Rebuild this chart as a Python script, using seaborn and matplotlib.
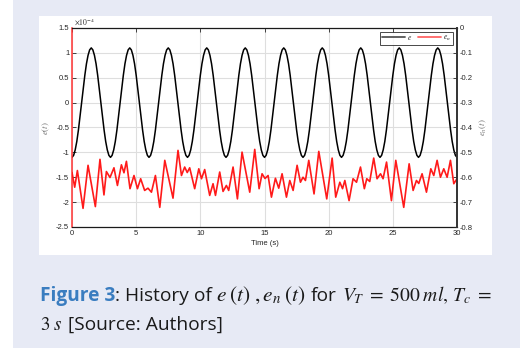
import numpy as np
import pandas as pd
import matplotlib
matplotlib.use("Agg")
import matplotlib.pyplot as plt
import seaborn as sns
from matplotlib.patches import Rectangle
from matplotlib.lines import Line2D

# ---------------- data ----------------
# e(t) in units of 1e-4, sampled every 0.125 s from 0 to 30 s
e_time = np.arange(0, 30.0001, 0.125)
e_vals = [
    -1.10, -1.06, -0.95, -0.78, -0.55, -0.28, 0.00, 0.28, 0.55, 0.78, 0.95, 1.06, 1.10, 1.06, 0.95, 0.78, 0.55, 0.28, 0.00, -0.28, -0.55, -0.78, -0.95, -1.06,
    -1.10, -1.06, -0.95, -0.78, -0.55, -0.28, 0.00, 0.28, 0.55, 0.78, 0.95, 1.06, 1.10, 1.06, 0.95, 0.78, 0.55, 0.28, 0.00, -0.28, -0.55, -0.78, -0.95, -1.06,
    -1.10, -1.06, -0.95, -0.78, -0.55, -0.28, 0.00, 0.28, 0.55, 0.78, 0.95, 1.06, 1.10, 1.06, 0.95, 0.78, 0.55, 0.28, 0.00, -0.28, -0.55, -0.78, -0.95, -1.06,
    -1.10, -1.06, -0.95, -0.78, -0.55, -0.28, 0.00, 0.28, 0.55, 0.78, 0.95, 1.06, 1.10, 1.06, 0.95, 0.78, 0.55, 0.28, 0.00, -0.28, -0.55, -0.78, -0.95, -1.06,
    -1.10, -1.06, -0.95, -0.78, -0.55, -0.28, 0.00, 0.28, 0.55, 0.78, 0.95, 1.06, 1.10, 1.06, 0.95, 0.78, 0.55, 0.28, 0.00, -0.28, -0.55, -0.78, -0.95, -1.06,
    -1.10, -1.06, -0.95, -0.78, -0.55, -0.28, 0.00, 0.28, 0.55, 0.78, 0.95, 1.06, 1.10, 1.06, 0.95, 0.78, 0.55, 0.28, 0.00, -0.28, -0.55, -0.78, -0.95, -1.06,
    -1.10, -1.06, -0.95, -0.78, -0.55, -0.28, 0.00, 0.28, 0.55, 0.78, 0.95, 1.06, 1.10, 1.06, 0.95, 0.78, 0.55, 0.28, 0.00, -0.28, -0.55, -0.78, -0.95, -1.06,
    -1.10, -1.06, -0.95, -0.78, -0.55, -0.28, 0.00, 0.28, 0.55, 0.78, 0.95, 1.06, 1.10, 1.06, 0.95, 0.78, 0.55, 0.28, 0.00, -0.28, -0.55, -0.78, -0.95, -1.06,
    -1.10, -1.06, -0.95, -0.78, -0.55, -0.28, 0.00, 0.28, 0.55, 0.78, 0.95, 1.06, 1.10, 1.06, 0.95, 0.78, 0.55, 0.28, 0.00, -0.28, -0.55, -0.78, -0.95, -1.06,
    -1.10, -1.06, -0.95, -0.78, -0.55, -0.28, 0.00, 0.28, 0.55, 0.78, 0.95, 1.06, 1.10, 1.06, 0.95, 0.78, 0.55, 0.28, 0.00, -0.28, -0.55, -0.78, -0.95, -1.06,
    -1.10,
]

# e_n(t) (right axis)
en_time = [0.00, 0.21, 0.42, 0.86, 1.25, 1.82, 2.18, 2.49, 2.68, 2.96, 3.27, 3.54, 3.85, 4.05, 4.24,
           4.52, 4.83, 5.10, 5.35, 5.66, 5.92, 6.19, 6.50, 6.84, 7.23, 7.87, 8.26, 8.53, 8.78, 8.98,
           9.17, 9.56, 9.88, 10.09, 10.34, 10.73, 10.99, 11.18, 11.51, 11.77, 12.03, 12.21, 12.55,
           12.89, 13.25, 13.85, 14.24, 14.58, 14.81, 15.04, 15.28, 15.54, 15.85, 16.11, 16.37, 16.71,
           16.97, 17.23, 17.54, 17.80, 18.00, 18.19, 18.45, 18.86, 19.23, 19.85, 20.27, 20.55, 20.87,
           21.08, 21.26, 21.59, 21.90, 22.17, 22.48, 22.78, 22.97, 23.20, 23.51, 23.77, 24.04, 24.24,
           24.51, 24.89, 25.23, 25.85, 26.27, 26.58, 26.84, 27.02, 27.28, 27.62, 27.96, 28.19, 28.45,
           28.71, 28.97, 29.23, 29.49, 29.75, 30.00]
en_vals = [-0.581, -0.640, -0.573, -0.725, -0.552, -0.718, -0.528, -0.671, -0.577, -0.601, -0.562,
           -0.633, -0.550, -0.582, -0.536, -0.646, -0.593, -0.646, -0.606, -0.653, -0.644, -0.660,
           -0.593, -0.721, -0.532, -0.684, -0.492, -0.593, -0.559, -0.581, -0.562, -0.646, -0.566,
           -0.606, -0.569, -0.673, -0.626, -0.673, -0.579, -0.657, -0.633, -0.653, -0.559, -0.687,
           -0.499, -0.660, -0.488, -0.646, -0.586, -0.605, -0.593, -0.680, -0.604, -0.644, -0.586,
           -0.680, -0.613, -0.653, -0.552, -0.620, -0.600, -0.613, -0.532, -0.667, -0.496, -0.687,
           -0.523, -0.680, -0.620, -0.646, -0.613, -0.694, -0.606, -0.620, -0.559, -0.646, -0.606,
           -0.617, -0.523, -0.606, -0.586, -0.606, -0.539, -0.694, -0.532, -0.721, -0.546, -0.653,
           -0.613, -0.625, -0.586, -0.660, -0.566, -0.593, -0.532, -0.600, -0.566, -0.600, -0.532,
           -0.626, -0.606]

x_ticks = [0, 5, 10, 15, 20, 25, 30]
left_ticks = [1.5, 1, 0.5, 0, -0.5, -1, -1.5, -2, -2.5]
left_labels = ["1.5", "1", "0.5", "0", "-0.5", "-1", "-1.5", "-2", "-2.5"]
right_ticks = [0, -0.1, -0.2, -0.3, -0.4, -0.5, -0.6, -0.7, -0.8]
right_labels = ["0", "-0.1", "-0.2", "-0.3", "-0.4", "-0.5", "-0.6", "-0.7", "-0.8"]

df_e = pd.DataFrame({"t": e_time, "e": e_vals})
df_en = pd.DataFrame({"t": en_time, "en": en_vals})

# ---------------- style ----------------
sns.set_style("white")
plt.rcParams["font.family"] = ["Liberation Sans", "DejaVu Sans"]
plt.rcParams["mathtext.fontset"] = "stix"

W, H = 520, 348
fig = plt.figure(figsize=(W / 100, H / 100), dpi=100)
fig.patch.set_facecolor("white")
fig.add_artist(Rectangle((13 / W, 0), 1, 1, transform=fig.transFigure,
                         facecolor="#e7eaf5", edgecolor="none", zorder=-10))
fig.add_artist(Rectangle((39 / W, 1 - 255 / H), (492 - 39) / W, (255 - 16) / H,
                         transform=fig.transFigure, facecolor="white",
                         edgecolor="none", zorder=-9))

ax = fig.add_axes([72 / W, 1 - 227 / H, 385 / W, 199 / H])
ax.set_facecolor("white")
ax2 = ax.twinx()

sns.lineplot(data=df_e, x="t", y="e", ax=ax, color="black", lw=1.1, legend=False)
sns.lineplot(data=df_en, x="t", y="en", ax=ax2, color="#ff1a1a", lw=1.2, legend=False)
for ln in ax2.get_lines():
    ln.set_solid_joinstyle("round")

tick_col = "#262626"
ax.set_xlim(0, 30)
ax.set_ylim(-2.5, 1.5)
ax2.set_ylim(-0.8, 0)
ax.set_xticks(x_ticks)
ax.set_xticklabels([str(v) for v in x_ticks])
ax.set_yticks(left_ticks)
ax.set_yticklabels(left_labels)
ax2.set_yticks(right_ticks)
ax2.set_yticklabels(right_labels)

ax.grid(True, color="#dedede", lw=0.8)
ax.set_axisbelow(True)

ax.tick_params(axis="both", direction="in", length=3, width=0.6, labelsize=5.5,
               colors=tick_col, pad=2, top=True)
ax2.tick_params(axis="y", direction="in", length=3, width=0.6, labelsize=5.5,
                colors=tick_col, pad=2)

for s in ["top", "bottom"]:
    ax.spines[s].set_color("#1a1a1a")
    ax.spines[s].set_linewidth(0.9)
ax.spines["left"].set_color("#ff3333")
ax.spines["left"].set_linewidth(1.1)
ax.spines["right"].set_visible(False)
ax2.spines["left"].set_visible(False)
ax2.spines["top"].set_visible(False)
ax2.spines["bottom"].set_visible(False)
ax2.spines["right"].set_color("#333333")
ax2.spines["right"].set_linewidth(1.4)

ax.set_xlabel("Time (s)", fontsize=5.5, color=tick_col, labelpad=2)
ax.set_ylabel("$e(t)$", fontsize=6.5, color="#777777", labelpad=3)
ax2.set_ylabel("$e_n(t)$", fontsize=6.5, color="#777777", labelpad=4, rotation=90)

fig.text(74 / W, 1 - 25 / H, r"$\times10^{-4}$", fontsize=5.5, color=tick_col,
         ha="left", va="baseline")

handles = [Line2D([], [], color="#555555", lw=1.3),
           Line2D([], [], color="#ff6666", lw=1.3)]
leg = ax2.legend(handles, ["$e$", "$e_n$"], loc="upper right", ncol=2,
                 fontsize=5.5, frameon=True, fancybox=False, borderpad=0.25,
                 handlelength=3.0, handletextpad=0.3, columnspacing=0.8,
                 borderaxespad=0.5)
leg.get_frame().set_edgecolor("#1a1a1a")
leg.get_frame().set_linewidth(0.7)

# ---------------- caption ----------------
fig.canvas.draw()
renderer = fig.canvas.get_renderer()
sans = ["Open Sans", "DejaVu Sans"]
txt_col = "#1a1a1a"
cap = 13.8


def piece(s, x0, x1, y, size, **kw):
    """Place a caption piece starting at pixel x0; if x1 given, fit its width."""
    t = fig.text(x0 / W, 1 - y / H, s, fontsize=size, ha="left", va="baseline", **kw)
    if x1 is not None:
        bb = t.get_window_extent(renderer)
        t.set_fontsize(size * (x1 - x0) / bb.width)
    return t


y1, y2 = 301, 330
piece("Figure 3", 40, None, y1, cap, fontweight="bold", color="#3a7dc0", family=sans)
piece(": History of", 115, None, y1, cap, color=txt_col, family=sans)
piece(r"$e\;(t)\;,e_n\;(t)$", 216, 306, y1, 15, color=txt_col)
piece("for", 311, None, y1, cap, color=txt_col, family=sans)
piece(r"$V_T\;=\;500\;ml,\,T_c\;=$", 342, 492, y1, 15, color=txt_col)
piece(r"$3\;s$", 40, 62, y2, 15, color=txt_col)
piece("[Source: Authors]", 68, None, y2, cap, color=txt_col, family=sans)

fig.savefig("out.png", dpi=100, facecolor=fig.get_facecolor())
